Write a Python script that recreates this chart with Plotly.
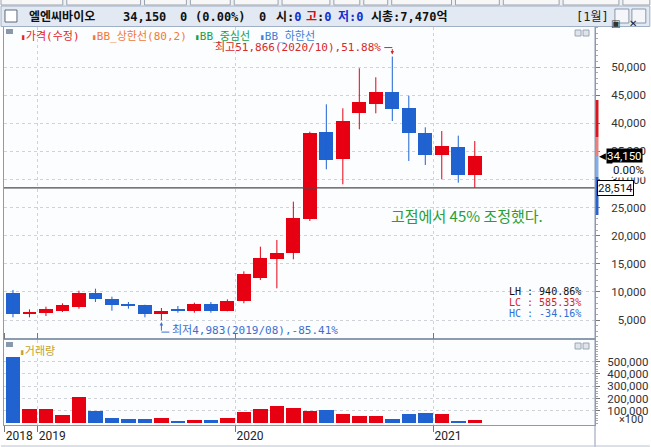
import plotly.graph_objects as go

# ---------------- data ----------------
months = ["2018-11", "2018-12", "2019-01", "2019-02", "2019-03", "2019-04", "2019-05",
          "2019-06", "2019-07", "2019-08", "2019-09", "2019-10", "2019-11", "2019-12",
          "2020-01", "2020-02", "2020-03", "2020-04", "2020-05", "2020-06", "2020-07",
          "2020-08", "2020-09", "2020-10", "2020-11", "2020-12", "2021-01", "2021-02",
          "2021-03"]
opens = [9850, 6050, 6190, 6650, 7370, 9860, 8790, 7720, 7610, 6010, 6820, 6650, 7850, 6650,
         8430, 12420, 15800, 16970, 22920, 38500, 33590, 41770, 43430, 45510, 42770, 38320,
         34350, 35830, 30800]
highs = [10340, 6900, 7370, 7970, 10210, 10570, 9150, 8200, 7720, 7140, 7490, 8080, 8200, 8680,
         13660, 18040, 19230, 26050, 38500, 43370, 42660, 49780, 48180, 51866, 44900, 39280,
         38620, 37790, 36840]
lows = [5480, 5480, 5710, 6420, 7010, 8200, 6650, 7010, 5480, 4983, 6300, 6300, 6300, 6550,
        7970, 12120, 10640, 15800, 22610, 31810, 29140, 38930, 41770, 40400, 33290, 32570,
        30030, 29430, 28514]
closes = [6010, 6480, 6900, 7610, 9860, 8680, 7610, 7560, 6010, 6650, 6700, 7790, 6650, 8430,
          13130, 16080, 16870, 23200, 38320, 33460, 40460, 43840, 45510, 42540, 38210, 34350,
          35960, 30800, 34150]
volumes = [540000, 119000, 119000, 68000, 216000, 103000, 46000, 35000, 35000, 46000, 22000,
           30000, 30000, 46000, 95000, 114000, 143000, 127000, 103000, 111000, 78000, 62000,
           62000, 38000, 78000, 86000, 78000, 22000, 30000]
year_labels = ["2018", "2019", "2020", "2021"]
price_ticks = [5000, 10000, 15000, 20000, 25000, 30000, 35000, 40000, 45000, 50000]
volume_ticks = [100000, 200000, 300000, 400000, 500000]
ref_price = 28514
axis_band_levels = [44140, 37560, 34150, 30440, 23680]

RED = "#e60012"
BLUE = "#1f62d0"
KFONT = "DejaVu Sans Mono, Noto Sans CJK KR, sans-serif"
NFONT = "Roboto, sans-serif"

# pixel -> paper helpers (plot area: x 3..596, y 27..425)
def px(X):
    return (X - 3) / 593.0

def py(Y):
    return (425 - Y) / 398.0

idx = list(range(len(months)))
up = [c >= o for o, c in zip(opens, closes)]
colors = [RED if u else BLUE for u in up]

fig = go.Figure()

# wicks
for flag, col in ((True, RED), (False, BLUE)):
    wx, wy = [], []
    for i in idx:
        if up[i] == flag:
            wx += [i, i, None]
            wy += [lows[i], highs[i], None]
    fig.add_trace(go.Scatter(x=wx, y=wy, mode="lines", line=dict(color=col, width=1),
                             hoverinfo="skip", showlegend=False, yaxis="y"))

# bodies
fig.add_trace(go.Bar(x=idx, y=[max(abs(c - o), 60) for o, c in zip(opens, closes)],
                     base=[min(o, c) for o, c in zip(opens, closes)],
                     width=0.84, marker=dict(color=colors, line=dict(width=0)),
                     showlegend=False, yaxis="y"))

# volume
fig.add_trace(go.Bar(x=idx, y=volumes, width=0.88, marker=dict(color=colors, line=dict(width=0)),
                     showlegend=False, yaxis="y2"))

# year ticks at start of each year
year_pos = []
for yl in year_labels:
    first = next(i for i, m in enumerate(months) if m.startswith(yl))
    year_pos.append(first - 0.5)

grid = dict(gridcolor="#cfd3d8", griddash="dot", gridwidth=1)
shapes = []
annotations = []

# reference line
shapes.append(dict(type="line", xref="paper", x0=0, x1=1, yref="y", y0=ref_price, y1=ref_price,
                   line=dict(color="#4a4a4a", width=1.3)))

# axis range band on price axis
band_cols = ["#d9161e", "#e88080", "#86aee6", "#2a64c8"]
for k in range(4):
    shapes.append(dict(type="rect", xref="paper", x0=px(596.5), x1=px(599.5), yref="y",
                       y0=axis_band_levels[k + 1], y1=axis_band_levels[k],
                       fillcolor=band_cols[k], line=dict(width=0), layer="above"))

# header / toolbar
shapes.append(dict(type="rect", xref="paper", yref="paper", x0=px(0), x1=px(651), y0=py(5.5), y1=py(0),
                   fillcolor="#eef0f3", line=dict(width=0)))
for a, b in [(0, 62), (66, 140), (144, 186), (190, 230), (234, 278), (282, 330), (334, 360),
             (364, 388), (392, 452), (456, 500), (504, 560), (564, 620), (624, 651)]:
    shapes.append(dict(type="rect", xref="paper", yref="paper", x0=px(a), x1=px(b), y0=py(5),
                       y1=py(-2), fillcolor="#f7f7f7", line=dict(color="#9aa3ad", width=1)))
shapes.append(dict(type="rect", xref="paper", yref="paper", x0=px(0), x1=px(651), y0=py(26.5), y1=py(6),
                   fillcolor="#e2e9f3", line=dict(color="#9fb0c6", width=1)))
shapes.append(dict(type="rect", xref="paper", yref="paper", x0=px(4), x1=px(16), y0=py(22), y1=py(10),
                   fillcolor="white", line=dict(color="#5d6a7a", width=1)))
for a in (616, 633):
    shapes.append(dict(type="rect", xref="paper", yref="paper", x0=px(a), x1=px(a + 14), y0=py(23),
                       y1=py(9), fillcolor="#f4f6f9", line=dict(color="#8a97a8", width=1)))
annotations.append(dict(xref="paper", yref="paper", x=px(623), y=py(16), text="▣", showarrow=False,
                        font=dict(family="DejaVu Sans", size=10, color="#333")))
annotations.append(dict(xref="paper", yref="paper", x=px(640), y=py(16), text="✕", showarrow=False,
                        font=dict(family="DejaVu Sans", size=10, color="#222", weight="bold")))

# pane icons
for top in (29, 342):
    shapes.append(dict(type="rect", xref="paper", yref="paper", x0=px(5), x1=px(12), y0=py(top + 5),
                       y1=py(top), fillcolor="#8797ae", line=dict(width=0)))
    for a in (576, 584):
        shapes.append(dict(type="rect", xref="paper", yref="paper", x0=px(a), x1=px(a + 6),
                           y0=py(top + 7), y1=py(top + 1), fillcolor="#dfe3ea",
                           line=dict(color="#9aa6b6", width=1)))
# separator for axis column
shapes.append(dict(type="line", xref="paper", yref="paper", x0=1, x1=1, y0=py(447), y1=py(27),
                   line=dict(color="#8c9bb0", width=1)))
shapes.append(dict(type="line", xref="paper", yref="paper", x0=px(0), x1=px(651), y0=py(446), y1=py(446),
                   line=dict(color="#b8c2cf", width=1)))

BLU = "#1030d0"
REDT = "#d01010"
def hdr(X, text, color="#111", anchor="left"):
    annotations.append(dict(xref="paper", yref="paper", x=px(X), y=py(16.5), xanchor=anchor,
                            yanchor="middle", text=text, showarrow=False,
                            font=dict(family=KFONT, size=12, color=color, weight="bold")))

hdr(26, "엘엔씨바이오")
hdr(120, "34,150")
hdr(178, "0")
hdr(193, "(0.00%)")
hdr(257, "0")
hdr(274, f"시:<span style='color:{BLU}'>0</span>")
hdr(304, f"<span style='color:{REDT}'>고</span>:<span style='color:{BLU}'>0</span>")
hdr(336, f"<span style='color:{BLU}'>저:0</span>")
hdr(369, "시총:7,470억")
annotations.append(dict(xref="paper", yref="paper", x=px(612), y=py(16.5), xanchor="right",
                        yanchor="middle", text="[1월]", showarrow=False,
                        font=dict(family=KFONT, size=12, color="#222")))

# legend row
legend_items = [("가격(수정)", "#e4222a", 18), ("BB_상한선(80,2)", "#f0783a", 89),
                ("BB_중심선", "#16a04a", 193), ("BB_하한선", "#3f7fd6", 258)]
for txt, col, X in legend_items:
    annotations.append(dict(xref="paper", yref="paper", x=px(X), y=py(36), xanchor="left",
                            yanchor="middle", showarrow=False,
                            text="<span style='font-size:8px'>▮</span>" + txt,
                            font=dict(family=KFONT, size=11, color=col)))
annotations.append(dict(xref="paper", yref="paper", x=px(17), y=py(351), xanchor="left",
                        yanchor="middle", showarrow=False,
                        text="<span style='font-size:8px'>▮</span>거래량",
                        font=dict(family=KFONT, size=11, color="#c9a227")))

# max / min labels from data
last_close = closes[-1]
imax = max(idx, key=lambda i: highs[i])
imin = min(idx, key=lambda i: lows[i])
max_pct = (highs[imax] - last_close) / last_close * 100
min_pct = (lows[imin] - last_close) / last_close * 100
MAXC = "#d42a2a"
MINC = "#3a6fd0"
annotations.append(dict(xref="x", yref="y", x=imax, y=highs[imax], xanchor="right", yanchor="middle",
                        xshift=-9, yshift=9, showarrow=False,
                        text=f"최고{highs[imax]:,}({months[imax].replace('-', '/')}),{max_pct:.2f}%",
                        font=dict(family=KFONT, size=11, color=MAXC)))
shapes.append(dict(type="line", xref="x", yref="y", xsizemode="pixel", ysizemode="pixel",
                   xanchor=imax, yanchor=highs[imax], x0=-8, x1=0, y0=9, y1=9,
                   line=dict(color=MAXC, width=1)))
annotations.append(dict(xref="x", yref="y", x=imax, y=highs[imax], ax=0, ay=-9, text="",
                        showarrow=True, arrowhead=2, arrowsize=0.7, arrowwidth=1, standoff=2,
                        arrowcolor=MAXC))
annotations.append(dict(xref="x", yref="y", x=imin, y=lows[imin], xanchor="left", yanchor="middle",
                        xshift=9, yshift=-10, showarrow=False,
                        text=f"최저{lows[imin]:,}({months[imin].replace('-', '/')}),{min_pct:.2f}%",
                        font=dict(family=KFONT, size=11, color=MINC)))
shapes.append(dict(type="line", xref="x", yref="y", xsizemode="pixel", ysizemode="pixel",
                   xanchor=imin, yanchor=lows[imin], x0=0, x1=8, y0=-12, y1=-12,
                   line=dict(color=MINC, width=1)))
annotations.append(dict(xref="x", yref="y", x=imin, y=lows[imin], ax=0, ay=12, text="",
                        showarrow=True, arrowhead=2, arrowsize=0.7, arrowwidth=1, standoff=2,
                        arrowcolor=MINC))

# LH / LC / HC
LH = (highs[imax] - lows[imin]) / lows[imin] * 100
LC = (last_close - lows[imin]) / lows[imin] * 100
HC = (last_close - highs[imax]) / highs[imax] * 100
for k, (lab, val, col) in enumerate([("LH", LH, "#111"), ("LC", LC, "#d81e1e"), ("HC", HC, "#2f6fd6")]):
    annotations.append(dict(xref="paper", yref="paper", x=px(584), y=py(291 + 11 * k), xanchor="right",
                            yanchor="middle", showarrow=False, text=f"{lab} : {val:.2f}%",
                            font=dict(family="DejaVu Sans Mono", size=10, color=col)))

# comment text
annotations.append(dict(xref="paper", yref="paper", x=px(468), y=py(215), xanchor="center",
                        yanchor="middle", showarrow=False, text="고점에서 45% 조정했다.",
                        font=dict(family="Noto Sans CJK KR", size=15, color="#25a036")))

# price boxes on axis
annotations.append(dict(xref="paper", yref="y", x=px(598), y=last_close, xanchor="left",
                        yanchor="middle", showarrow=False, text="◀",
                        font=dict(family="DejaVu Sans", size=9, color="#000")))
annotations.append(dict(xref="paper", yref="y", x=px(607), y=last_close, xanchor="left",
                        yanchor="middle", showarrow=False, text=f"{last_close:,}",
                        bgcolor="#000", borderpad=0,
                        font=dict(family=NFONT, size=11.5, color="#fff")))
annotations.append(dict(xref="paper", yref="y", x=px(646), y=last_close, xanchor="right",
                        yanchor="middle", yshift=-14, showarrow=False, text="0.00%",
                        bgcolor="#fff", borderpad=0,
                        font=dict(family=NFONT, size=11.5, color="#111")))
annotations.append(dict(xref="paper", yref="y", x=px(598), y=ref_price, xanchor="left",
                        yanchor="middle", showarrow=False, text=f"{ref_price:,}",
                        bgcolor="#fff", bordercolor="#000", borderwidth=1, borderpad=0,
                        font=dict(family=NFONT, size=11.5, color="#111")))
annotations.append(dict(xref="paper", yref="paper", x=px(646), y=py(419), xanchor="right",
                        yanchor="middle", showarrow=False, text="×100",
                        font=dict(family=NFONT, size=11, color="#333")))

def pad(s, n):
    return "\u2007" * (n - len(s.replace(",", ""))) + s

fig.update_layout(
    width=651, height=447,
    margin=dict(l=3, r=55, t=27, b=22),
    paper_bgcolor="#ffffff",
    plot_bgcolor="#fcfdff",
    bargap=0,
    showlegend=False,
    xaxis=dict(range=[-0.544, 35.29], anchor="y2", tickvals=year_pos, ticktext=year_labels,
               tickangle=0,
               ticks="outside", ticklen=6, tickcolor="#777", ticklabelposition="outside right",
               tickfont=dict(family=NFONT, size=12, color="#222"), showline=True,
               linecolor="#8c9bb0", mirror="all", zeroline=False, **grid),
    yaxis=dict(domain=[py(338), 1], range=[1798, 57125], side="right", tickvals=price_ticks,
               ticktext=[pad(f"{v:,}", 5) for v in price_ticks], ticks="outside", ticklen=4,
               tickcolor="#777", ticklabelstandoff=9,
               tickfont=dict(family=NFONT, size=11.5, color="#333"), showline=True,
               linecolor="#8c9bb0", mirror=True, zeroline=False,
               minor=dict(tick0=0, dtick=1000, ticks="outside", ticklen=2, tickcolor="#aaa",
                          showgrid=False), **grid),
    yaxis2=dict(domain=[0, py(340)], range=[-14000, 675400], side="right", tickvals=volume_ticks,
                ticktext=[f"{v:,}" for v in volume_ticks], ticks="outside", ticklen=4,
                tickcolor="#777", ticklabelstandoff=5,
                tickfont=dict(family=NFONT, size=11.5, color="#333"), showline=True,
                linecolor="#8c9bb0", mirror=True, zeroline=False,
                minor=dict(tick0=0, dtick=20000, ticks="outside", ticklen=2, tickcolor="#aaa",
                           showgrid=False), **grid),
    shapes=shapes,
    annotations=annotations,
)

fig.write_html("out.html", config={"displayModeBar": False},
               post_script="document.body.style.margin='0';document.body.style.overflow='hidden';")
